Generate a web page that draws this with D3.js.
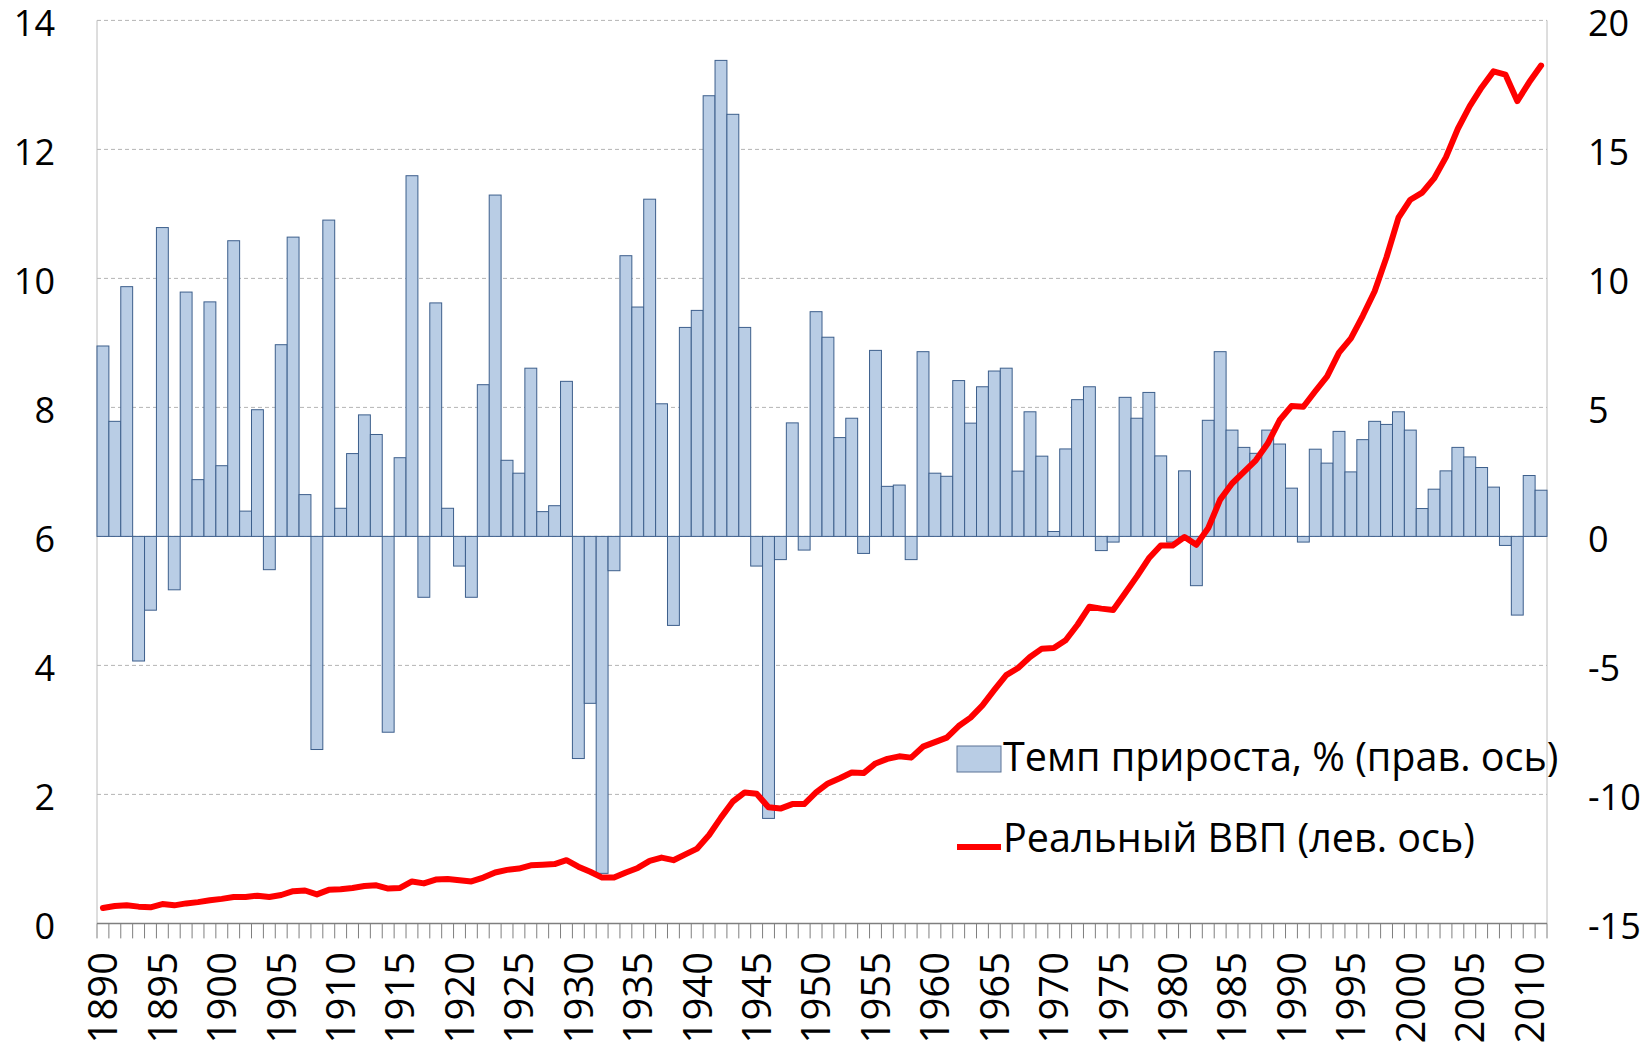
<!DOCTYPE html>
<html lang="ru">
<head>
    <meta charset="utf-8">
    <title>Реальный ВВП и темп прироста</title>
    <script type="text/javascript" src="https://d3js.org/d3.v7.min.js"></script>
    <style type="text/css">
        body { margin: 0; background: #fff; }
        svg text { font-family: "Open Sans", "Noto Sans", sans-serif; fill: #000; }
    </style>
</head>
<body>
<script type="text/javascript">
    // years 1890..2011
    var firstYear = 1890;
    var years = d3.range(firstYear, 2012);

    // growth rate, % (right axis)
    var growth = [
        7.38, 4.46, 9.68, -4.83, -2.86, 11.97, -2.07, 9.47, 2.20, 9.09,
        2.74, 11.46, 0.98, 4.91, -1.29, 7.43, 11.60, 1.62, -8.26, 12.26,
        1.09, 3.21, 4.71, 3.95, -7.59, 3.05, 13.98, -2.36, 9.05, 1.09,
        -1.15, -2.36, 5.88, 13.23, 2.95, 2.45, 6.52, 0.96, 1.19, 6.01,
        -8.61, -6.47, -13.06, -1.33, 10.88, 8.89, 13.07, 5.14, -3.45, 8.10,
        8.76, 17.08, 18.45, 16.36, 8.10, -1.15, -10.93, -0.90, 4.40, -0.53,
        8.71, 7.72, 3.83, 4.58, -0.66, 7.21, 1.94, 1.99, -0.90, 7.16,
        2.45, 2.33, 6.04, 4.39, 5.80, 6.41, 6.52, 2.53, 4.83, 3.11,
        0.19, 3.39, 5.30, 5.80, -0.55, -0.22, 5.39, 4.58, 5.58, 3.12,
        -0.22, 2.54, -1.91, 4.50, 7.16, 4.12, 3.45, 3.22, 4.12, 3.58,
        1.87, -0.22, 3.38, 2.84, 4.07, 2.50, 3.75, 4.46, 4.34, 4.83,
        4.12, 1.08, 1.83, 2.54, 3.45, 3.08, 2.67, 1.91, -0.35, -3.05,
        2.36, 1.79
    ];

    // real GDP (left axis)
    var gdp = [
        0.24, 0.27, 0.28, 0.26, 0.25, 0.30, 0.28, 0.31, 0.33, 0.36,
        0.38, 0.41, 0.41, 0.43, 0.41, 0.44, 0.50, 0.51, 0.45, 0.52,
        0.53, 0.55, 0.58, 0.59, 0.54, 0.55, 0.65, 0.62, 0.68, 0.69,
        0.67, 0.65, 0.71, 0.79, 0.83, 0.85, 0.90, 0.91, 0.92, 0.98,
        0.88, 0.80, 0.71, 0.71, 0.79, 0.86, 0.97, 1.02, 0.98, 1.07,
        1.16, 1.37, 1.64, 1.89, 2.03, 2.01, 1.80, 1.78, 1.85, 1.85,
        2.03, 2.17, 2.25, 2.34, 2.33, 2.48, 2.55, 2.59, 2.57, 2.74,
        2.81, 2.88, 3.06, 3.19, 3.38, 3.62, 3.85, 3.96, 4.13, 4.26,
        4.27, 4.39, 4.63, 4.91, 4.88, 4.86, 5.12, 5.38, 5.66, 5.86,
        5.86, 5.99, 5.87, 6.13, 6.57, 6.82, 7.00, 7.18, 7.44, 7.80,
        8.02, 8.01, 8.25, 8.48, 8.85, 9.07, 9.42, 9.80, 10.33, 10.94,
        11.22, 11.33, 11.55, 11.88, 12.32, 12.67, 12.96, 13.21, 13.16, 12.75,
        13.04, 13.30
    ];

    var leftTicks = [0, 2, 4, 6, 8, 10, 12, 14];
    var rightTicks = [-15, -10, -5, 0, 5, 10, 15, 20];
    var labelYears = d3.range(1890, 2011, 5);
    var legendNames = ["Темп прироста, % (прав. ось)", "Реальный ВВП (лев. ось)"];

    var width = 1648, height = 1043;
    var plotLeft = 97, plotRight = 1547, plotTop = 20.4, plotBottom = 923.4;

    var svg = d3.select("body").append("svg")
        .attr("width", width)
        .attr("height", height);

    var x = d3.scaleBand().domain(years).range([plotLeft, plotRight]).padding(0);
    var yL = d3.scaleLinear().domain([0, 14]).range([plotBottom, plotTop]);
    var yR = d3.scaleLinear().domain([-15, 20]).range([plotBottom, plotTop]);

    // gridlines
    svg.append("g").selectAll("line")
        .data(leftTicks.filter(function(d) { return d > 0; }))
        .enter().append("line")
        .attr("x1", plotLeft).attr("x2", plotRight)
        .attr("y1", function(d) { return yL(d); })
        .attr("y2", function(d) { return yL(d); })
        .style("stroke", "#b4b4b4")
        .style("stroke-width", 1)
        .style("stroke-dasharray", "4,3");

    // side frame lines
    svg.append("line")
        .attr("x1", plotLeft).attr("x2", plotLeft).attr("y1", plotTop).attr("y2", plotBottom)
        .style("stroke", "#bcbcbc").style("stroke-width", 1);
    svg.append("line")
        .attr("x1", plotRight).attr("x2", plotRight).attr("y1", plotTop).attr("y2", plotBottom)
        .style("stroke", "#bcbcbc").style("stroke-width", 1);

    // bars
    svg.append("g").selectAll("rect")
        .data(growth)
        .enter().append("rect")
        .attr("x", function(d, i) { return x(years[i]); })
        .attr("width", x.bandwidth())
        .attr("y", function(d) { return yR(Math.max(0, d)); })
        .attr("height", function(d) { return Math.abs(yR(d) - yR(0)); })
        .style("fill", "#b9cde5")
        .style("stroke", "#3d5f8c")
        .style("stroke-width", 1);

    // line
    var line = d3.line()
        .x(function(d, i) { return x(years[i]) + x.bandwidth() / 2; })
        .y(function(d) { return yL(d); });

    svg.append("path")
        .datum(gdp)
        .attr("d", line)
        .style("fill", "none")
        .style("stroke", "#ff0000")
        .style("stroke-width", 6)
        .style("stroke-linejoin", "round")
        .style("stroke-linecap", "round");

    // x axis
    var xAxis = svg.append("g");
    xAxis.append("line")
        .attr("x1", plotLeft).attr("x2", plotRight).attr("y1", plotBottom).attr("y2", plotBottom)
        .style("stroke", "#7f7f7f").style("stroke-width", 1.5);
    xAxis.selectAll(".tick")
        .data(years.concat([2012]))
        .enter().append("line")
        .attr("x1", function(d) { return d === 2012 ? plotRight : x(d); })
        .attr("x2", function(d) { return d === 2012 ? plotRight : x(d); })
        .attr("y1", plotBottom)
        .attr("y2", plotBottom + 15)
        .style("stroke", "#7f7f7f").style("stroke-width", 1);
    xAxis.selectAll("text")
        .data(labelYears)
        .enter().append("text")
        .attr("transform", function(d) {
            return "translate(" + (x(d) + x.bandwidth() / 2) + "," + 952 + ") rotate(-90)";
        })
        .attr("dy", "0.36em")
        .style("text-anchor", "end")
        .style("font-size", "40px")
        .text(function(d) { return d; });

    // left axis labels
    svg.append("g").selectAll("text")
        .data(leftTicks)
        .enter().append("text")
        .attr("x", 55)
        .attr("y", function(d) { return yL(d); })
        .attr("dy", "0.42em")
        .style("text-anchor", "end")
        .style("font-size", "36px")
        .text(function(d) { return d; });

    // right axis labels
    svg.append("g").selectAll("text")
        .data(rightTicks)
        .enter().append("text")
        .attr("x", 1588)
        .attr("y", function(d) { return yR(d); })
        .attr("dy", "0.42em")
        .style("text-anchor", "start")
        .style("font-size", "36px")
        .text(function(d) { return d; });

    // legend
    var legend = svg.append("g");
    legend.append("rect")
        .attr("x", 957).attr("y", 746).attr("width", 44).attr("height", 26)
        .style("fill", "#b9cde5").style("stroke", "#5a7396").style("stroke-width", 1);
    legend.append("line")
        .attr("x1", 957).attr("x2", 1001).attr("y1", 847).attr("y2", 847)
        .style("stroke", "#ff0000").style("stroke-width", 6);
    legend.selectAll("text")
        .data(legendNames)
        .enter().append("text")
        .attr("x", 1003)
        .attr("y", function(d, i) { return i === 0 ? 771 : 852; })
        .style("font-size", "39.5px")
        .text(function(d) { return d; });
</script>
</body>
</html>
